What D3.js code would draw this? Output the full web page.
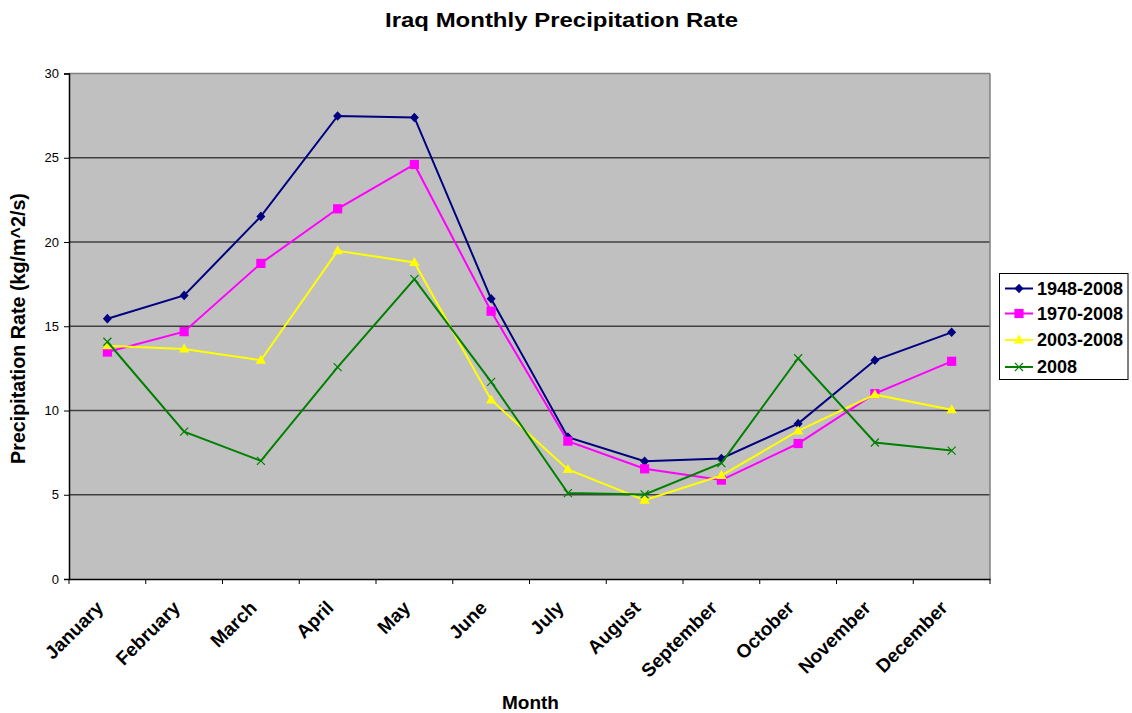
<!DOCTYPE html>
<html>
<head>
<meta charset="utf-8">
<script src="https://cdn.jsdelivr.net/npm/d3@7"></script>
<style>
  html, body { margin: 0; padding: 0; background: #fff; }
  svg { display: block; font-family: Arial, "Liberation Sans", sans-serif; }
</style>
</head>
<body>
<svg id="chart" width="1132" height="713"></svg>
<script>
// Monthly precipitation rate for Iraq, averaged over several periods
const months = ["January", "February", "March", "April", "May", "June",
  "July", "August", "September", "October", "November", "December"];
const rate1948to2008 = [15.45, 16.83, 21.52, 27.48, 27.39, 16.63, 8.42, 6.99, 7.15, 9.22, 12.98, 14.64];
const rate1970to2008 = [13.47, 14.68, 18.73, 21.97, 24.60, 15.89, 8.18, 6.54, 5.87, 8.04, 11.00, 12.92];
const rate2003to2008 = [13.85, 13.65, 12.98, 19.48, 18.79, 10.63, 6.50, 4.68, 6.14, 8.79, 10.94, 10.04];
const rate2008 = [14.08, 8.75, 7.01, 12.57, 17.80, 11.70, 5.10, 5.02, 6.88, 13.10, 8.10, 7.62];
const seriesNames = ["1948-2008", "1970-2008", "2003-2008", "2008"];
const yTicks = [0, 5, 10, 15, 20, 25, 30];

const seriesStyle = [
  { color: "#000080", marker: "diamond" },
  { color: "#FF00FF", marker: "square" },
  { color: "#FFFF00", marker: "triangle" },
  { color: "#008000", marker: "cross" }
];
const seriesValues = [rate1948to2008, rate1970to2008, rate2003to2008, rate2008];

const FONT = "Arial, 'Liberation Sans', sans-serif";
const svg = d3.select("#chart");
const plot = { left: 69, right: 990, top: 73.5, bottom: 579 };

const x = d3.scaleBand().domain(months).range([plot.left, plot.right]);
const y = d3.scaleLinear().domain([0, 30]).range([plot.bottom, plot.top]);

// Plot background
svg.append("rect")
  .attr("x", plot.left).attr("y", plot.top)
  .attr("width", plot.right - plot.left).attr("height", plot.bottom - plot.top)
  .attr("fill", "#C0C0C0");

// Horizontal gridlines
svg.append("g").selectAll("line")
  .data(yTicks.filter(d => d > 0))
  .join("line")
  .attr("x1", plot.left).attr("x2", plot.right)
  .attr("y1", d => y(d)).attr("y2", d => y(d))
  .attr("stroke", d => d === 30 ? "#808080" : "#404040")
  .attr("stroke-width", 1.5);

// Right border of plot area
svg.append("line")
  .attr("x1", plot.right).attr("x2", plot.right)
  .attr("y1", plot.top).attr("y2", plot.bottom)
  .attr("stroke", "#808080").attr("stroke-width", 1.5);

// Y axis
const yAxis = svg.append("g")
  .attr("transform", `translate(${plot.left},0)`)
  .call(d3.axisLeft(y).tickValues(yTicks).tickSize(5).tickPadding(5));
yAxis.select(".domain").attr("stroke", "#000").attr("stroke-width", 1.5);
yAxis.selectAll(".tick line").attr("stroke", "#000");
yAxis.selectAll(".tick text")
  .attr("font-size", 13).attr("font-family", FONT).attr("fill", "#000");

// X axis, month names slanted below each category
const xAxis = svg.append("g")
  .attr("transform", `translate(0,${plot.bottom})`)
  .call(d3.axisBottom(x).tickSize(0).tickPadding(0));
xAxis.select(".domain").attr("stroke", "#000").attr("stroke-width", 1.5);
xAxis.selectAll(".tick line").remove();
xAxis.selectAll(".tick text")
  .attr("font-size", 19).attr("font-weight", "bold")
  .attr("font-family", FONT).attr("fill", "#000")
  .attr("text-anchor", "end")
  .attr("x", 0).attr("y", 0).attr("dy", 0)
  .attr("transform", "translate(-3,30) rotate(-45)");

// Tick marks on category boundaries
const boundaries = months.map(m => x(m)).concat([x(months[months.length - 1]) + x.bandwidth()]);
svg.append("g").selectAll("line")
  .data(boundaries)
  .join("line")
  .attr("x1", d => d).attr("x2", d => d)
  .attr("y1", plot.bottom).attr("y2", plot.bottom + 5)
  .attr("stroke", "#000").attr("stroke-width", 1);

const cx = m => x(m) + x.bandwidth() / 2;

// Marker shapes
function drawMarker(g, type, color, px, py) {
  if (type === "diamond") {
    g.append("path").attr("d", `M${px},${py - 4.8}L${px + 4.5},${py}L${px},${py + 4.8}L${px - 4.5},${py}Z`)
      .attr("fill", color);
  } else if (type === "square") {
    g.append("rect").attr("x", px - 4.6).attr("y", py - 4.6)
      .attr("width", 9.2).attr("height", 9.2).attr("fill", color);
  } else if (type === "triangle") {
    g.append("path").attr("d", `M${px},${py - 5.5}L${px + 5.2},${py + 3.5}L${px - 5.2},${py + 3.5}Z`)
      .attr("fill", color);
  } else if (type === "cross") {
    g.append("path").attr("d", `M${px - 4},${py - 4}L${px + 4},${py + 4}M${px - 4},${py + 4}L${px + 4},${py - 4}`)
      .attr("stroke", color).attr("stroke-width", 1.2).attr("fill", "none");
  }
}

const line = d3.line().x((d, i) => cx(months[i])).y(d => y(d));

seriesValues.forEach((vals, s) => {
  const g = svg.append("g");
  g.append("path").datum(vals)
    .attr("d", line)
    .attr("fill", "none")
    .attr("stroke", seriesStyle[s].color)
    .attr("stroke-width", 2);
  vals.forEach((v, i) => drawMarker(g, seriesStyle[s].marker, seriesStyle[s].color, cx(months[i]), y(v)));
});

// Title and axis titles
svg.append("text")
  .attr("x", 561.5).attr("y", 27)
  .attr("text-anchor", "middle")
  .attr("font-size", 20).attr("font-weight", "bold")
  .attr("textLength", 353).attr("lengthAdjust", "spacingAndGlyphs")
  .text("Iraq Monthly Precipitation Rate");

svg.append("text")
  .attr("x", 530.5).attr("y", 709)
  .attr("text-anchor", "middle")
  .attr("font-size", 19).attr("font-weight", "bold")
  .text("Month");

svg.append("text")
  .attr("transform", `translate(25,328.5) rotate(-90)`)
  .attr("text-anchor", "middle")
  .attr("font-size", 19.7).attr("font-weight", "bold")
  .text("Precipitation Rate (kg/m^2/s)");

// Legend
const legend = svg.append("g");
legend.append("rect")
  .attr("x", 999.5).attr("y", 273.5).attr("width", 128.5).attr("height", 106)
  .attr("fill", "#fff").attr("stroke", "#000").attr("stroke-width", 1);
const legendY = [288.5, 313.5, 340, 367];
seriesNames.forEach((name, s) => {
  const ly = legendY[s];
  legend.append("line")
    .attr("x1", 1005).attr("x2", 1033).attr("y1", ly).attr("y2", ly)
    .attr("stroke", seriesStyle[s].color).attr("stroke-width", 2);
  drawMarker(legend, seriesStyle[s].marker, seriesStyle[s].color, 1019, ly);
  legend.append("text")
    .attr("x", 1037).attr("y", ly).attr("dy", "0.36em")
    .attr("font-size", 18).attr("font-weight", "bold")
    .text(name);
});
</script>
</body>
</html>
